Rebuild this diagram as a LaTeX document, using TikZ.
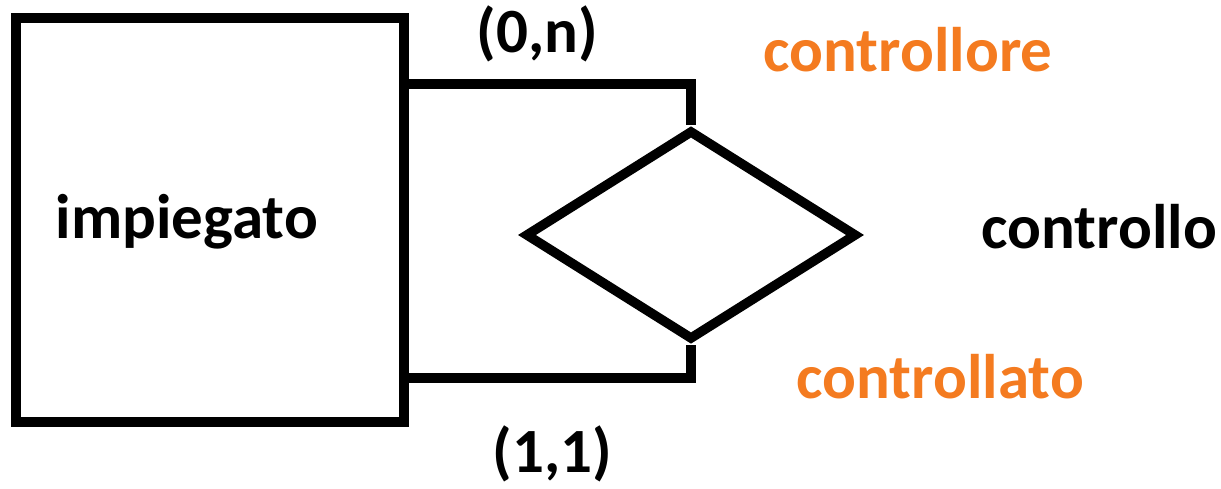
\documentclass[tikz,border=0pt]{standalone}
\usepackage{fontspec}
\setmainfont{Carlito}
\usetikzlibrary{shapes.geometric}
\definecolor{roleorange}{HTML}{F47B20}
\begin{document}
\begin{tikzpicture}[x=1pt,y=-1pt,
  line width=9.5pt,
  lbl/.style={font=\fontsize{63}{75}\selectfont\bfseries, inner sep=0pt, anchor=base west},
  role/.style={lbl, text=roleorange},
  entitybox/.style={draw, rectangle, inner sep=0pt, minimum width=388pt, minimum height=404pt},
  relbox/.style={draw, diamond, inner sep=0pt, minimum width=332pt, minimum height=210pt, aspect=1.58}
]
\useasboundingbox (0,0) rectangle (1221,489);
\node[entitybox] (ent) at (210,220) {};
\node[relbox] (rel) at (691,235) {};
\node[lbl] (entname) at (51,239) {impiegato};
\node[lbl] (relname) at (977,248) {controllo};
\node[lbl] (card1) at (472,53) {(0,n)};
\node[lbl] (card2) at (488,472) {(1,1)};
\node[role] (role1) at (759,72) {controllore};
\node[role] (role2) at (792,398) {controllato};
\coordinate (c1) at (404,84);
\coordinate (c2) at (404,378);
\draw (c1) -| (rel.north);
\draw (c2) -| (rel.south);
\end{tikzpicture}
\end{document}
